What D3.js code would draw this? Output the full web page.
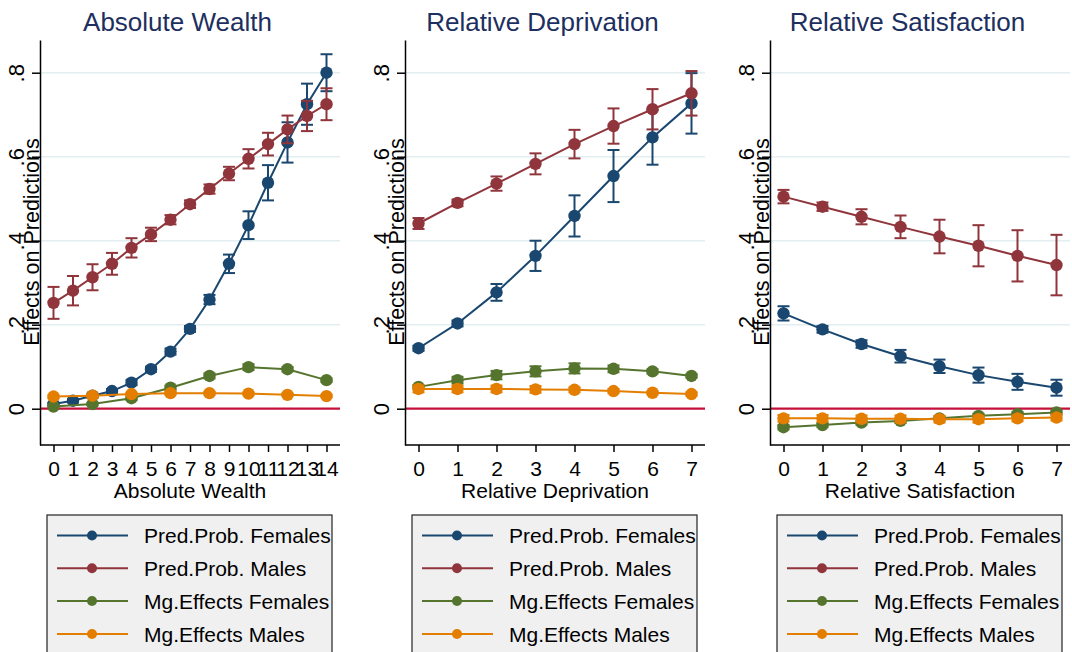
<!DOCTYPE html>
<html>
<head>
<meta charset="utf-8">
<script src="https://cdn.jsdelivr.net/npm/d3@7"></script>
<style>
  body { margin: 0; background: #fff; }
  text { font-family: "Liberation Sans", Arial, sans-serif; }
</style>
</head>
<body>
<div id="chart"></div>
<script>
// ---- data ----
const seriesNames = ["Pred.Prob. Females", "Pred.Prob. Males", "Mg.Effects Females", "Mg.Effects Males"];
const seriesColors = ["#1a476f", "#90353b", "#55752f", "#e37e00"];
const yTicks = [0, 0.2, 0.4, 0.6, 0.8];
const yTickLabels = ["0", ".2", ".4", ".6", ".8"];

// panel 1: Absolute Wealth
const wealthX = [0,1,2,3,4,5,6,7,8,9,10,11,12,13,14];
const wealthXEven = [0,2,4,6,8,10,12,14];
const wealthFemPred = [0.011,0.019,0.031,0.042,0.062,0.094,0.136,0.190,0.260,0.345,0.437,0.538,0.634,0.725,0.800];
const wealthFemPredCi = [0.003,0.004,0.005,0.005,0.006,0.006,0.007,0.007,0.011,0.022,0.033,0.042,0.048,0.049,0.044];
const wealthMalePred = [0.252,0.281,0.313,0.345,0.383,0.415,0.450,0.487,0.523,0.560,0.595,0.630,0.665,0.697,0.725];
const wealthMalePredCi = [0.038,0.035,0.031,0.026,0.023,0.016,0.011,0.009,0.011,0.016,0.023,0.027,0.033,0.036,0.038];
const wealthFemMg = [0.005,0.011,0.025,0.050,0.078,0.099,0.094,0.068];
const wealthFemMgCi = [0.002,0.003,0.004,0.005,0.006,0.007,0.005,0.004];
const wealthMaleMg = [0.029,0.031,0.035,0.037,0.037,0.036,0.033,0.030];
const wealthMaleMgCi = [0.004,0.004,0.003,0.003,0.003,0.003,0.003,0.003];

// panel 2: Relative Deprivation
const depX = [0,1,2,3,4,5,6,7];
const depFemPred = [0.144,0.203,0.277,0.364,0.459,0.554,0.646,0.727];
const depFemPredCi = [0.006,0.007,0.020,0.036,0.049,0.062,0.065,0.072];
const depMalePred = [0.441,0.490,0.536,0.583,0.630,0.673,0.713,0.751];
const depMalePredCi = [0.013,0.008,0.017,0.025,0.034,0.042,0.048,0.053];
const depFemMg = [0.052,0.068,0.080,0.089,0.096,0.095,0.089,0.078];
const depFemMgCi = [0.004,0.008,0.010,0.012,0.012,0.008,0.005,0.004];
const depMaleMg = [0.047,0.047,0.047,0.046,0.045,0.042,0.038,0.035];
const depMaleMgCi = [0.008,0.008,0.008,0.008,0.006,0.005,0.004,0.004];

// panel 3: Relative Satisfaction
const satX = [0,1,2,3,4,5,6,7];
const satFemPred = [0.227,0.189,0.154,0.125,0.101,0.080,0.064,0.050];
const satFemPredCi = [0.017,0.008,0.009,0.015,0.016,0.018,0.019,0.019];
const satMalePred = [0.505,0.481,0.457,0.433,0.410,0.388,0.364,0.342];
const satMalePredCi = [0.016,0.010,0.018,0.027,0.040,0.049,0.061,0.072];
const satFemMg = [-0.044,-0.039,-0.033,-0.029,-0.023,-0.017,-0.013,-0.009];
const satFemMgCi = [0.005,0.005,0.005,0.005,0.005,0.005,0.005,0.005];
const satMaleMg = [-0.023,-0.023,-0.024,-0.024,-0.025,-0.025,-0.023,-0.021];
const satMaleMgCi = [0.008,0.008,0.008,0.008,0.008,0.008,0.007,0.007];

const panels = [
  {title: "Absolute Wealth", xmax: 14, cats: wealthX,
   series: [[wealthX, wealthFemPred, wealthFemPredCi], [wealthX, wealthMalePred, wealthMalePredCi],
            [wealthXEven, wealthFemMg, wealthFemMgCi], [wealthXEven, wealthMaleMg, wealthMaleMgCi]]},
  {title: "Relative Deprivation", xmax: 7, cats: depX,
   series: [[depX, depFemPred, depFemPredCi], [depX, depMalePred, depMalePredCi],
            [depX, depFemMg, depFemMgCi], [depX, depMaleMg, depMaleMgCi]]},
  {title: "Relative Satisfaction", xmax: 7, cats: satX,
   series: [[satX, satFemPred, satFemPredCi], [satX, satMalePred, satMalePredCi],
            [satX, satFemMg, satFemMgCi], [satX, satMaleMg, satMaleMgCi]]}
];

const width = 1072, height = 652;
const svg = d3.select("#chart").append("svg")
  .attr("width", width).attr("height", height);
svg.append("rect").attr("width", width).attr("height", height).attr("fill", "#fff");

const plotTop = 40, plotBottom = 445, plotW = 300;
const y = d3.scaleLinear().domain([-0.0864, 0.8779]).range([plotBottom, plotTop]);

panels.forEach((p, i) => {
  const L = 40 + i * 365;
  const x = d3.scaleLinear().domain([0, p.xmax]).range([L + 13.5, L + 286.5]);
  const g = svg.append("g");

  // title
  g.append("text").attr("x", 177.5 + i * 365).attr("y", 31)
    .attr("text-anchor", "middle").attr("font-size", 26).attr("fill", "#1c2f5e")
    .text(p.title);

  // gridlines
  g.append("g").selectAll("line").data(yTicks.filter(d => d > 0)).enter().append("line")
    .attr("x1", L).attr("x2", L + plotW)
    .attr("y1", d => y(d)).attr("y2", d => y(d))
    .attr("stroke", "#e2eef0").attr("stroke-width", 1.5);

  // zero line
  g.append("line").attr("x1", L).attr("x2", L + plotW)
    .attr("y1", y(0)).attr("y2", y(0))
    .attr("stroke", "#c4103a").attr("stroke-width", 2.2);

  // y axis
  const yAxis = g.append("g").attr("transform", `translate(${L},0)`)
    .call(d3.axisLeft(y).tickValues(yTicks).tickSize(8).tickSizeOuter(0)
      .tickFormat((d, k) => yTickLabels[k]));
  yAxis.select(".domain").attr("stroke", "#000").attr("stroke-width", 1.5);
  yAxis.selectAll(".tick line").attr("stroke", "#000").attr("stroke-width", 1.5);
  yAxis.selectAll(".tick text")
    .attr("x", null).attr("dy", null).attr("y", null)
    .attr("transform", "translate(-16,0) rotate(-90)")
    .attr("text-anchor", "middle")
    .attr("font-size", 22).attr("fill", "#000")
    .attr("font-family", "Liberation Sans, Arial, sans-serif");

  // x axis
  const xAxis = g.append("g").attr("transform", `translate(0,${plotBottom})`)
    .call(d3.axisBottom(x).tickValues(p.cats).tickFormat(d3.format("d"))
      .tickSize(7).tickSizeOuter(0).tickPadding(9));
  xAxis.select(".domain").remove();
  xAxis.selectAll(".tick line").attr("stroke", "#000").attr("stroke-width", 1.5);
  xAxis.selectAll(".tick text").attr("font-size", 21).attr("fill", "#000")
    .attr("font-family", "Liberation Sans, Arial, sans-serif");
  g.append("line").attr("x1", L).attr("x2", L + plotW)
    .attr("y1", plotBottom).attr("y2", plotBottom)
    .attr("stroke", "#000").attr("stroke-width", 1.5);

  // axis titles
  g.append("text").attr("x", L + plotW / 2).attr("y", 498)
    .attr("text-anchor", "middle").attr("font-size", 21).text(p.title);
  g.append("text").attr("transform", `translate(${L - 1},242) rotate(-90)`)
    .attr("text-anchor", "middle").attr("font-size", 21.5).text("Effects on Predictions");

  // series
  p.series.forEach((s, k) => {
    const [xs, vals, cis] = s;
    const color = seriesColors[k];
    const pts = xs.map((xv, j) => ({x: xv, v: vals[j], ci: cis[j]}));
    const sg = g.append("g");

    sg.append("path").datum(pts)
      .attr("fill", "none").attr("stroke", color).attr("stroke-width", 2)
      .attr("d", d3.line().x(d => x(d.x)).y(d => y(d.v)));

    const eb = sg.selectAll(".eb").data(pts).enter().append("g");
    eb.append("line").attr("x1", d => x(d.x)).attr("x2", d => x(d.x))
      .attr("y1", d => y(d.v - d.ci)).attr("y2", d => y(d.v + d.ci))
      .attr("stroke", color).attr("stroke-width", 2);
    [-1, 1].forEach(sign => {
      eb.append("line").attr("x1", d => x(d.x) - 6).attr("x2", d => x(d.x) + 6)
        .attr("y1", d => y(d.v + sign * d.ci)).attr("y2", d => y(d.v + sign * d.ci))
        .attr("stroke", color).attr("stroke-width", 2);
    });

    sg.selectAll("circle").data(pts).enter().append("circle")
      .attr("cx", d => x(d.x)).attr("cy", d => y(d.v)).attr("r", 6.2)
      .attr("fill", color);
  });

  // legend
  const lg = g.append("g");
  lg.append("rect").attr("x", L + 7).attr("y", 515).attr("width", 285).attr("height", 160)
    .attr("fill", "#f0f0f0").attr("stroke", "#222").attr("stroke-width", 1.2);
  const rowsY = [535.5, 568.3, 601, 634];
  seriesNames.forEach((name, k) => {
    lg.append("line").attr("x1", L + 17).attr("x2", L + 88)
      .attr("y1", rowsY[k]).attr("y2", rowsY[k])
      .attr("stroke", seriesColors[k]).attr("stroke-width", 2);
    lg.append("circle").attr("cx", L + 52).attr("cy", rowsY[k]).attr("r", 5)
      .attr("fill", seriesColors[k]);
    lg.append("text").attr("x", L + 104).attr("y", rowsY[k]).attr("dy", "0.36em")
      .attr("font-size", 21).attr("fill", "#000").text(name);
  });
});
</script>
</body>
</html>
